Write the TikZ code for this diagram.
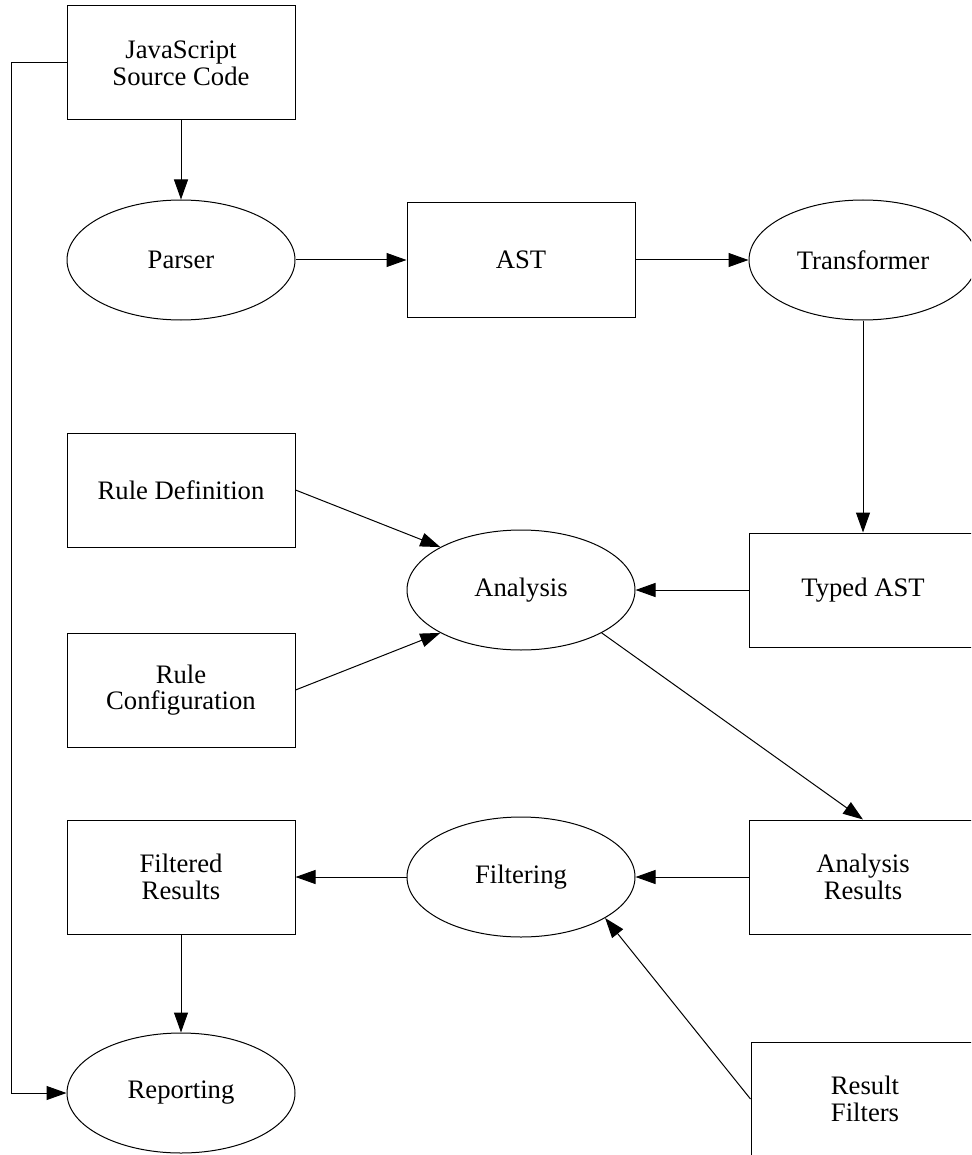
\documentclass[tikz,border=0pt]{standalone}
\usepackage{fontspec}
\setmainfont{Liberation Serif}
\usetikzlibrary{shapes.geometric,arrows.meta}

\tikzset{
  base/.style={draw=black, line width=0.75pt, inner sep=0pt, align=center,
    font=\fontsize{20}{20}\selectfont},
  procbox/.style={base, rectangle, minimum width=171pt, minimum height=85.5pt},
  proc/.style={base, ellipse, minimum width=171pt, minimum height=90pt},
  flow/.style={draw=black, line width=0.75pt,
    -{Triangle[length=15pt, width=10.5pt]}},
}

\begin{document}
\begin{tikzpicture}[x=0.75pt, y=-0.75pt]
  \clip (0,0) rectangle (971,1155);
  \fill[white] (0,0) rectangle (971,1155);

  % pipeline stages
  \node[procbox] (js)   at (181,63)   {JavaScript\\Source Code};
  \node[proc]    (prs)  at (181,260)  {Parser};
  \node[procbox] (ast)  at (521,260)  {AST};
  \node[proc]    (trf)  at (863,260)  {Transformer};
  \node[procbox] (tast) at (863,590)  {Typed AST};
  \node[proc]    (an)   at (521,590)  {Analysis};
  \node[procbox] (rd)   at (181,490)  {Rule Definition};
  \node[procbox] (rc)   at (181,690)  {Rule\\Configuration};
  \node[procbox] (ar)   at (863,877)  {Analysis\\Results};
  \node[proc]    (flt)  at (521,877)  {Filtering};
  \node[procbox] (fr)   at (181,877)  {Filtered\\Results};
  \node[proc]    (rep)  at (181,1093) {Reporting};
  \node[procbox] (rf)   at (865,1099) {Result\\Filters};

  % connectors
  \draw[flow] (js) -- (prs);
  \draw[flow] (prs) -- (ast);
  \draw[flow] (ast) -- (trf);
  \draw[flow] (trf) -- (tast);
  \draw[flow] (tast) -- (an);
  \draw[flow] (rd.east) -- (an.152);
  \draw[flow] (rc.east) -- (an.208);
  \draw[flow] (an.332) -- (ar.north);
  \draw[flow] (ar) -- (flt);
  \draw[flow] (flt) -- (fr);
  \draw[flow] (fr) -- (rep);
  \draw[flow] (rf.west) -- (flt.334);
  \draw[flow] (js.west) -- ++(-55,0) |- (rep.west);
\end{tikzpicture}
\end{document}
